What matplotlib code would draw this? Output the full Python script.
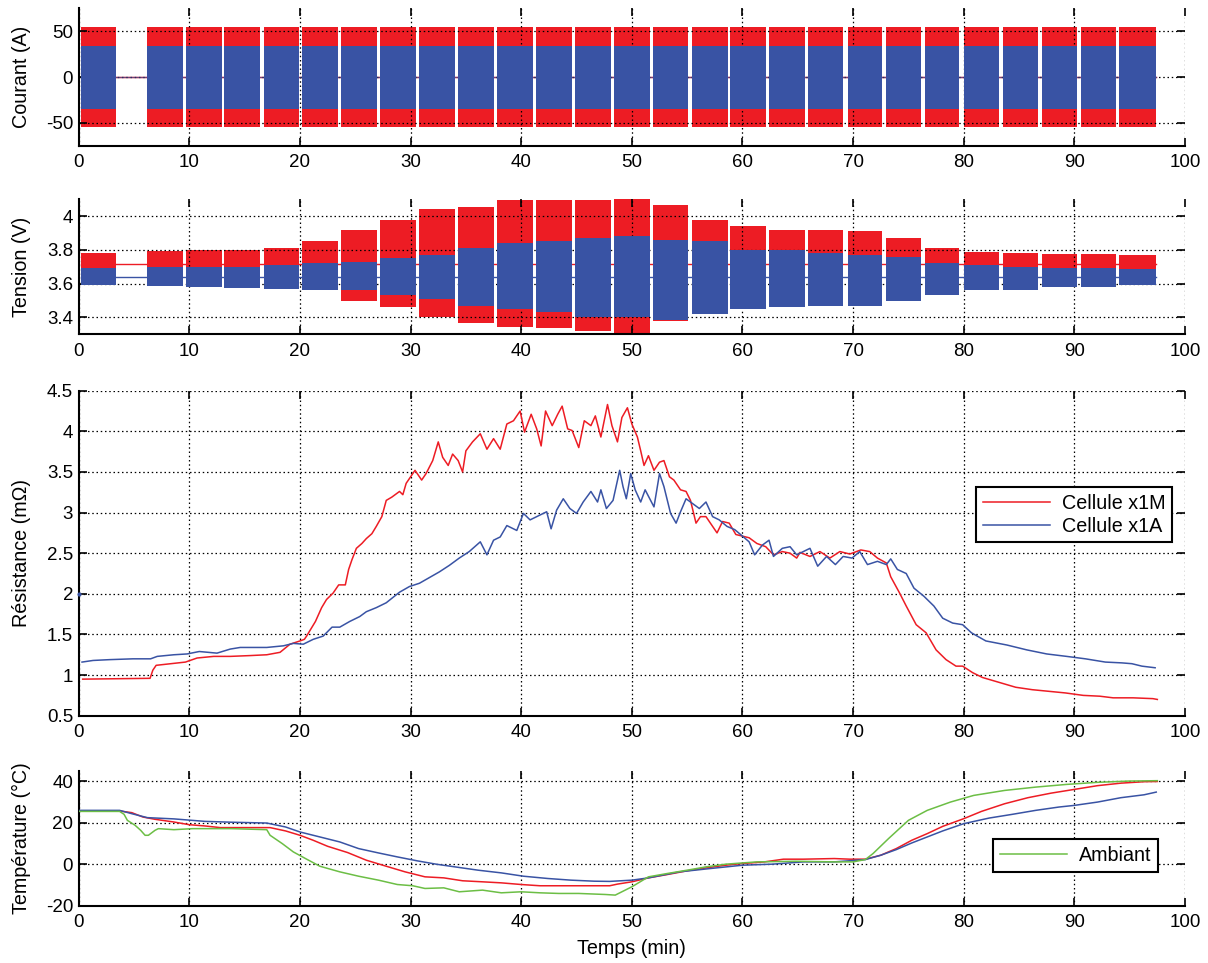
import matplotlib
matplotlib.use("Agg")
import matplotlib.pyplot as plt
from matplotlib.ticker import FuncFormatter

plt.rcParams['font.family'] = ['Liberation Sans', 'DejaVu Sans']
plt.rcParams['font.size'] = 13.5
plt.rcParams['axes.unicode_minus'] = False

RED = "#ED1C24"
BLUE = "#3953A4"
GREEN = "#6CBE45"

# ---------------- data ----------------
# pulse blocks (min)
block_start = [0.2, 6.15, 9.68, 13.17, 16.72, 20.22, 23.75, 27.25, 30.78, 34.3, 37.8,
               41.32, 44.85, 48.35, 51.87, 55.4, 58.9, 62.42, 65.95, 69.5, 72.97,
               76.47, 80.03, 83.55, 87.05, 90.6, 94.06]
block_end = [3.4, 9.40, 12.93, 16.42, 19.95, 23.47, 27.0, 30.5, 34.03, 37.55, 41.05,
             44.57, 48.1, 51.6, 55.12, 58.65, 62.15, 65.67, 69.11, 72.64, 76.1,
             79.55, 83.19, 86.74, 90.21, 93.76, 97.38]

# current envelopes (A)
cur_red_hi, cur_red_lo = 55.0, -55.0
cur_blue_hi, cur_blue_lo = 34.0, -35.0
cur_rest = 0.0

# voltage envelopes per block (V)
v_red_hi = [3.78, 3.795, 3.80, 3.80, 3.81, 3.85, 3.92, 3.98, 4.04, 4.055, 4.095,
            4.095, 4.095, 4.10, 4.065, 3.98, 3.94, 3.92, 3.92, 3.91, 3.87,
            3.81, 3.79, 3.78, 3.775, 3.775, 3.77]
v_red_lo = [3.62, 3.62, 3.61, 3.60, 3.59, 3.56, 3.50, 3.46, 3.40, 3.365, 3.345,
            3.34, 3.32, 3.31, 3.38, 3.42, 3.45, 3.46, 3.47, 3.47, 3.50,
            3.53, 3.56, 3.56, 3.58, 3.58, 3.59]
v_blue_hi = [3.69, 3.70, 3.70, 3.70, 3.71, 3.72, 3.73, 3.75, 3.77, 3.81, 3.84,
             3.85, 3.87, 3.88, 3.86, 3.85, 3.80, 3.80, 3.78, 3.77, 3.76,
             3.72, 3.71, 3.70, 3.69, 3.69, 3.685]
v_blue_lo = [3.59, 3.585, 3.58, 3.575, 3.57, 3.56, 3.56, 3.53, 3.51, 3.47, 3.45,
             3.43, 3.40, 3.40, 3.385, 3.42, 3.45, 3.46, 3.47, 3.47, 3.50,
             3.53, 3.56, 3.56, 3.58, 3.58, 3.59]
v_red_rest = 3.715
v_blue_rest = 3.64

# resistance (mOhm)
r_red_t = [0.36, 6.45, 6.7, 7.0, 8.3, 9.65, 10.7, 12.2, 13.7, 15.5, 17.0, 18.2, 19.1, 20.0,
           20.4, 20.6, 21.4, 21.96, 22.4, 23.0, 23.5, 24.1, 24.4, 24.7, 25.1, 25.6, 26.0,
           26.5, 26.9, 27.4, 27.8, 28.3, 29.0, 29.3, 29.6, 30.4, 31.0, 31.4, 32.0, 32.5,
           32.9, 33.4, 33.8, 34.3, 34.7, 35.0, 35.6, 36.3, 36.9, 37.5, 38.1, 38.7, 39.3,
           39.9, 40.3, 40.9, 41.4, 41.8, 42.2, 42.8, 43.3, 43.7, 44.2, 44.6, 45.2, 45.7,
           46.3, 46.7, 47.2, 47.8, 48.2, 48.7, 49.1, 49.6, 50.0, 50.5, 50.8, 51.1, 51.5,
           52.0, 52.5, 52.9, 53.4, 53.8, 54.4, 54.9, 55.3, 55.8, 56.2, 56.7, 57.1, 57.7,
           58.2, 58.8, 59.4, 60.0, 60.6, 61.3, 62.1, 62.8, 63.6, 64.3, 64.9, 65.2, 66.1,
           67.0, 67.9, 68.8, 69.7, 70.7, 71.5, 72.2, 73.0, 73.4, 74.2, 74.8, 75.7, 76.6,
           77.5, 78.4, 79.3, 79.9, 80.8, 81.7, 83.2, 84.7, 86.2, 87.7, 89.2, 90.8, 92.3,
           93.5, 95.3, 97.1, 97.5]
r_red_v = [0.95, 0.96, 1.06, 1.12, 1.14, 1.16, 1.21, 1.23, 1.23, 1.24, 1.25, 1.28, 1.38, 1.42,
           1.44, 1.48, 1.66, 1.83, 1.93, 2.01, 2.11, 2.11, 2.30, 2.42, 2.56, 2.62, 2.68,
           2.74, 2.83, 2.95, 3.15, 3.19, 3.26, 3.22, 3.36, 3.52, 3.40, 3.48, 3.64, 3.87,
           3.68, 3.58, 3.72, 3.64, 3.50, 3.76, 3.87, 3.97, 3.78, 3.91, 3.78, 4.09, 4.13,
           4.25, 3.99, 4.21, 4.03, 3.82, 4.25, 4.07, 4.21, 4.31, 4.03, 4.01, 3.80, 4.13,
           4.07, 4.19, 3.93, 4.33, 4.07, 3.87, 4.17, 4.29, 4.09, 3.93, 3.76, 3.58, 3.70,
           3.52, 3.62, 3.64, 3.44, 3.40, 3.28, 3.26, 3.15, 2.87, 2.95, 2.95, 2.87, 2.75,
           2.89, 2.87, 2.73, 2.71, 2.69, 2.62, 2.58, 2.48, 2.52, 2.50, 2.44, 2.51, 2.46,
           2.52, 2.44, 2.52, 2.49, 2.54, 2.52, 2.44, 2.38, 2.21, 2.01, 1.85, 1.62, 1.52,
           1.31, 1.19, 1.11, 1.11, 1.03, 0.97, 0.91, 0.85, 0.82, 0.80, 0.78, 0.75, 0.74,
           0.72, 0.72, 0.71, 0.70]

r_blue_t = [0.3, 1.3, 2.8, 4.9, 6.5, 7.1, 8.6, 9.8, 10.9, 12.5, 13.7, 14.6, 17.0, 18.5,
            19.4, 20.3, 21.2, 22.1, 22.9, 23.6, 24.5, 25.4, 26.0, 26.9, 27.8, 29.0, 29.9,
            30.8, 31.7, 32.6, 33.5, 34.4, 35.3, 36.3, 36.9, 37.5, 38.1, 38.7, 39.6, 40.2,
            40.8, 41.7, 42.3, 42.7, 43.2, 43.8, 44.4, 45.0, 45.6, 46.3, 46.9, 47.2, 47.7,
            48.3, 48.9, 49.2, 49.5, 49.9, 50.3, 50.8, 51.2, 52.0, 52.5, 52.9, 53.5, 54.0,
            54.4, 54.9, 55.5, 56.1, 56.7, 57.3, 57.9, 58.6, 59.3, 60.0, 60.6, 61.1, 61.8,
            62.4, 62.8, 63.6, 64.3, 64.9, 65.2, 66.1, 66.8, 67.6, 68.4, 69.1, 69.9, 70.6,
            71.3, 72.2, 73.0, 73.4, 74.0, 74.8, 75.5, 76.4, 77.3, 78.1, 79.0, 79.9, 80.7,
            82.0, 83.9, 85.7, 87.5, 89.3, 91.0, 92.8, 94.3, 95.2, 96.1, 97.3]
r_blue_v = [1.16, 1.18, 1.19, 1.20, 1.20, 1.23, 1.25, 1.26, 1.29, 1.27, 1.32, 1.34, 1.34, 1.36,
            1.39, 1.38, 1.44, 1.48, 1.59, 1.59, 1.66, 1.72, 1.78, 1.83, 1.89, 2.02, 2.09,
            2.13, 2.20, 2.27, 2.35, 2.44, 2.52, 2.64, 2.48, 2.66, 2.70, 2.84, 2.78, 2.99,
            2.91, 2.97, 3.01, 2.80, 3.03, 3.17, 3.05, 2.99, 3.13, 3.26, 3.13, 3.28, 3.05,
            3.15, 3.52, 3.32, 3.17, 3.48, 3.28, 3.13, 3.28, 3.07, 3.48, 3.32, 2.99, 2.87,
            3.01, 3.17, 3.11, 3.05, 3.13, 2.95, 2.91, 2.83, 2.79, 2.71, 2.64, 2.48, 2.60,
            2.66, 2.46, 2.56, 2.58, 2.48, 2.50, 2.56, 2.34, 2.46, 2.36, 2.46, 2.44, 2.52,
            2.36, 2.40, 2.36, 2.43, 2.30, 2.25, 2.07, 1.97, 1.85, 1.70, 1.64, 1.62, 1.52,
            1.42, 1.37, 1.31, 1.26, 1.23, 1.20, 1.16, 1.15, 1.14, 1.11, 1.09]
r_blue_first_t, r_blue_first_v = 0.0, 2.0

# temperature (degC)
t_red_t = [0.0, 3.7, 4.8, 5.8, 6.9, 8.6, 10.0, 11.4, 12.8, 15.6, 17.3, 18.7, 20.0, 21.2,
           22.5, 24.3, 26.0, 27.8, 29.5, 31.3, 33.0, 34.7, 36.5, 38.2, 40.0, 41.7, 43.4,
           45.2, 48.0, 48.7, 50.0, 51.5, 53.2, 55.0, 56.7, 58.5, 60.0, 62.0, 63.7, 65.5,
           68.3, 69.7, 71.1, 72.5, 73.9, 75.3, 76.7, 78.1, 80.0, 81.6, 83.7, 85.8, 87.9,
           90.0, 92.1, 94.2, 96.3, 97.5]
t_red_v = [25.6, 25.6, 24.8, 22.7, 21.6, 20.3, 19.0, 18.4, 17.6, 17.6, 17.6, 16.0, 13.9, 11.5,
           8.6, 5.6, 1.9, -1.0, -3.7, -6.1, -6.6, -8.0, -8.5, -9.0, -9.8, -10.4, -10.4,
           -10.4, -10.4, -9.6, -8.5, -6.6, -5.0, -3.2, -1.8, -0.5, 0.3, 1.1, 2.4, 2.4,
           2.7, 2.4, 2.4, 4.3, 7.5, 11.5, 14.7, 18.2, 21.9, 25.4, 29.1, 32.0, 34.2,
           36.0, 37.8, 39.0, 39.7, 39.8]

t_blue_t = [0.0, 3.7, 4.8, 6.2, 8.6, 11.4, 13.8, 17.0, 18.7, 20.0, 21.8, 23.6, 25.3, 27.1,
            28.8, 30.6, 32.3, 34.0, 36.1, 38.2, 40.2, 42.4, 44.5, 46.6, 48.0, 50.0, 51.5,
            54.3, 57.1, 60.0, 62.7, 65.5, 68.3, 71.1, 72.5, 73.9, 75.3, 76.7, 78.1, 80.0,
            82.3, 84.4, 86.5, 88.6, 90.0, 92.1, 94.2, 96.3, 97.4]
t_blue_v = [25.9, 25.9, 24.3, 22.4, 21.8, 20.6, 20.2, 19.8, 17.9, 15.5, 13.1, 10.7, 7.5, 5.4,
            3.5, 1.6, 0.0, -1.3, -2.9, -4.2, -5.8, -6.9, -7.7, -8.2, -8.3, -7.7, -6.6,
            -3.7, -2.1, -0.5, 0.0, 1.1, 1.1, 2.2, 4.3, 7.0, 10.2, 13.1, 16.0, 19.5,
            22.2, 24.0, 25.9, 27.5, 28.3, 29.9, 32.0, 33.4, 34.7]

t_amb_t = [0.0, 3.7, 4.1, 4.4, 5.1, 5.6, 6.0, 6.3, 6.9, 7.2, 8.6, 10.3, 13.8, 17.0, 17.3,
           18.4, 19.4, 20.5, 21.8, 23.6, 25.3, 27.1, 28.8, 30.2, 31.3, 33.0, 34.4, 36.5,
           38.2, 40.0, 41.7, 43.4, 45.2, 47.6, 48.5, 50.0, 51.5, 53.2, 55.0, 56.7, 58.5,
           61.3, 64.8, 68.3, 70.0, 71.1, 71.8, 73.2, 75.0, 76.7, 78.8, 80.9, 83.7, 86.5,
           89.3, 92.1, 94.9, 97.5]
t_amb_v = [25.4, 25.4, 24.0, 21.1, 18.7, 16.3, 13.9, 13.9, 16.3, 17.1, 16.6, 17.1, 17.1, 16.6,
           13.9, 9.9, 5.9, 2.7, -1.0, -3.7, -5.8, -7.7, -9.8, -10.4, -11.7, -11.4, -13.3,
           -12.5, -13.8, -13.3, -13.8, -14.1, -14.1, -14.6, -14.9, -10.9, -6.1, -4.5, -2.9,
           -1.3, 0.0, 1.1, 1.4, 1.1, 1.1, 2.2, 5.1, 12.3, 21.1, 25.9, 29.9, 33.1, 35.5,
           37.1, 38.4, 39.4, 40.0, 40.2]

x_ticks = [0, 10, 20, 30, 40, 50, 60, 70, 80, 90, 100]

# ---------------- figure ----------------
W, H = 1208, 963
fig = plt.figure(figsize=(W / 100, H / 100), dpi=100)

def px_axes(top, bottom):
    left = 78.7
    right = 1185.0
    return fig.add_axes([left / W, (H - bottom) / H, (right - left) / W, (bottom - top) / H])

fmt = FuncFormatter(lambda v, p: "%g" % v)

def style(ax, yticks, ylim, ylabel):
    ax.set_xlim(0, 100)
    ax.set_ylim(*ylim)
    ax.set_xticks(x_ticks)
    ax.set_yticks(yticks)
    ax.yaxis.set_major_formatter(fmt)
    ax.grid(True, color='black', linestyle=(0, (1.2, 2.2)), linewidth=0.9)
    ax.set_axisbelow(False)
    for s in ['top', 'right']:
        ax.spines[s].set_visible(False)
    for s in ['left', 'bottom']:
        ax.spines[s].set_linewidth(1.5)
    ax.tick_params(direction='in', length=6, width=1.2, top=True, right=True,
                   labelsize=13.5)
    ax.tick_params(axis='x', pad=6)
    ax.tick_params(axis='y', pad=4)
    ax.set_ylabel(ylabel, fontsize=14.2)
    ax.yaxis.set_label_coords(-0.043, 0.5)

# Panel 1: current
ax1 = px_axes(8.3, 145.7)
ax1.plot([block_start[0], block_end[-1]], [cur_rest, cur_rest], color=RED, lw=1.0, zorder=2)
for s, e in zip(block_start, block_end):
    ax1.fill_between([s, e], cur_red_lo, cur_red_hi, color=RED, lw=0, zorder=2)
ax1.plot([block_start[0], block_end[-1]], [cur_rest, cur_rest], color=BLUE, lw=1.0, zorder=3, alpha=0.6)
for s, e in zip(block_start, block_end):
    ax1.fill_between([s, e], cur_blue_lo, cur_blue_hi, color=BLUE, lw=0, zorder=3)
style(ax1, [-50, 0, 50], (-75, 75), "Courant (A)")

# Panel 2: voltage
ax2 = px_axes(199.3, 334.3)
ax2.plot([block_start[0], block_end[-1]], [v_red_rest, v_red_rest], color=RED, lw=1.0, zorder=2)
for s, e, lo, hi in zip(block_start, block_end, v_red_lo, v_red_hi):
    ax2.fill_between([s, e], lo, hi, color=RED, lw=0, zorder=2)
ax2.plot([block_start[0], block_end[-1]], [v_blue_rest, v_blue_rest], color=BLUE, lw=1.0, zorder=3)
for s, e, lo, hi in zip(block_start, block_end, v_blue_lo, v_blue_hi):
    ax2.fill_between([s, e], lo, hi, color=BLUE, lw=0, zorder=3)
style(ax2, [3.4, 3.6, 3.8, 4.0], (3.3, 4.1), "Tension (V)")

# Panel 3: resistance
ax3 = px_axes(390.7, 715.7)
ax3.plot(r_red_t, r_red_v, color=RED, lw=1.1, label="Cellule x1M", zorder=3)
ax3.plot(r_blue_t, r_blue_v, color=BLUE, lw=1.1, label="Cellule x1A", zorder=3)
ax3.plot([r_blue_first_t], [r_blue_first_v], '.', color=BLUE, ms=4, zorder=3, clip_on=False)
style(ax3, [0.5, 1, 1.5, 2, 2.5, 3, 3.5, 4, 4.5], (0.5, 4.5), "Résistance (mΩ)")
leg3 = ax3.legend(loc='upper right', bbox_to_anchor=(0.9885, 0.7046), borderaxespad=0,
                  fontsize=14.2, handlelength=3.4, fancybox=False, framealpha=1,
                  edgecolor='black', borderpad=0.35, labelspacing=0.2, handletextpad=0.6)
leg3.get_frame().set_linewidth(1.5)
leg3.set_zorder(10)

# Panel 4: temperature
ax4 = px_axes(770.7, 905.7)
ax4.plot(t_red_t, t_red_v, color=RED, lw=1.1, zorder=3)
ax4.plot(t_blue_t, t_blue_v, color=BLUE, lw=1.1, zorder=3)
ax4.plot(t_amb_t, t_amb_v, color=GREEN, lw=1.1, label="Ambiant", zorder=3)
style(ax4, [-20, 0, 20, 40], (-20, 45), "Température (°C)")
ax4.set_xlabel("Temps (min)", fontsize=14.2, labelpad=6)
leg4 = ax4.legend(loc='upper right', bbox_to_anchor=(0.9759, 0.494), borderaxespad=0,
                  fontsize=14.2, handlelength=3.4, fancybox=False, framealpha=1,
                  edgecolor='black', borderpad=0.35, handletextpad=0.6)
leg4.get_frame().set_linewidth(1.5)
leg4.set_zorder(10)

fig.savefig("out.png", dpi=100)
